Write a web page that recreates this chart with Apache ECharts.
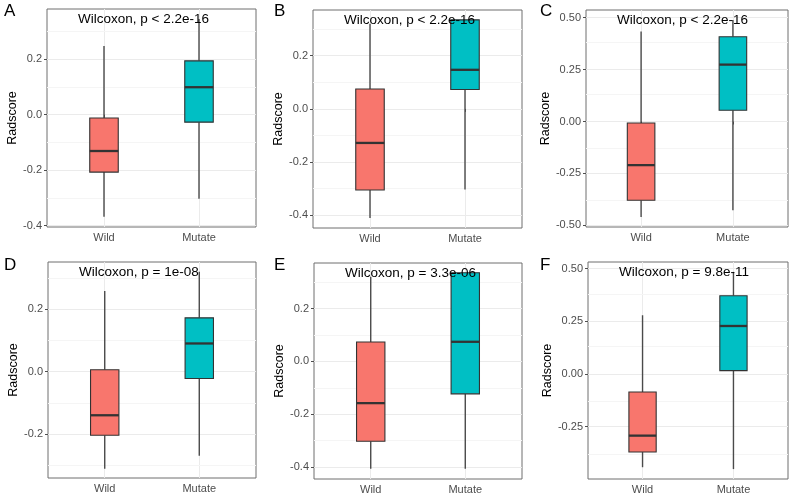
<!DOCTYPE html>
<html><head><meta charset="utf-8">
<script src="https://cdn.jsdelivr.net/npm/echarts@6/dist/echarts.min.js"></script>
<style>html,body{margin:0;padding:0;background:#fff}#c{width:792px;height:497px}</style>
</head><body><div id="c"></div>
<script>
// ---- data ----
const groups = ['Wild', 'Mutate'];
const panelLetters = ['A', 'B', 'C', 'D', 'E', 'F'];
const pLabels = ['Wilcoxon, p < 2.2e-16', 'Wilcoxon, p < 2.2e-16', 'Wilcoxon, p < 2.2e-16',
                 'Wilcoxon, p = 1e-08', 'Wilcoxon, p = 3.3e-06', 'Wilcoxon, p = 9.8e-11'];
// [min, Q1, median, Q3, max]
const wildA = [-0.368, -0.207, -0.131, -0.012, 0.248];
const mutateA = [-0.303, -0.027, 0.099, 0.194, 0.345];
const wildB = [-0.410, -0.305, -0.128, 0.075, 0.320];
const mutateB = [-0.303, 0.073, 0.147, 0.335, 0.335];
const wildC = [-0.460, -0.379, -0.210, -0.007, 0.433];
const mutateC = [-0.427, 0.054, 0.274, 0.408, 0.489];
const wildD = [-0.311, -0.204, -0.140, 0.006, 0.258];
const mutateD = [-0.270, -0.022, 0.090, 0.172, 0.320];
const wildE = [-0.406, -0.302, -0.158, 0.073, 0.320];
const mutateE = [-0.406, -0.123, 0.074, 0.335, 0.335];
const wildF = [-0.443, -0.371, -0.293, -0.086, 0.279];
const mutateF = [-0.452, 0.016, 0.228, 0.372, 0.485];
// y axis limits and ticks
const yRangeA = [-0.405, 0.381], yRangeB = [-0.448, 0.372], yRangeC = [-0.508, 0.537];
const yRangeD = [-0.341, 0.351], yRangeE = [-0.445, 0.372], yRangeF = [-0.499, 0.532];
const yTicksABE = [-0.4, -0.2, 0, 0.2];
const yTicksD = [-0.2, 0, 0.2];
const yTicksC = [-0.5, -0.25, 0, 0.25, 0.5];
const yTicksF = [-0.25, 0, 0.25, 0.5];
const yMinor1 = [-0.3, -0.1, 0.1, 0.3];
const yMinor2 = [-0.375, -0.125, 0.125, 0.375];

// ---- layout / style ----
const groupColors = ['#F8766D', '#00BFC4'];
const panels = [
  {w: wildA, m: mutateA, r: yRangeA, t: yTicksABE, mi: yMinor1, dec: 1, g: [47, 9, 209, 218]},
  {w: wildB, m: mutateB, r: yRangeB, t: yTicksABE, mi: yMinor1, dec: 1, g: [313, 10, 209, 218]},
  {w: wildC, m: mutateC, r: yRangeC, t: yTicksC, mi: yMinor2, dec: 2, g: [586, 10, 202, 217]},
  {w: wildD, m: mutateD, r: yRangeD, t: yTicksD, mi: yMinor1, dec: 1, g: [48, 262, 208, 216]},
  {w: wildE, m: mutateE, r: yRangeE, t: yTicksABE, mi: yMinor1, dec: 1, g: [314, 263, 208, 216]},
  {w: wildF, m: mutateF, r: yRangeF, t: yTicksF, mi: yMinor2, dec: 2, g: [588, 262, 200, 217]}
];
const letterPos = [[4, 3], [274, 3], [540, 3], [4, 257], [274, 257], [540, 257]];
const FONT = 'Liberation Sans, Arial, sans-serif';
const BOX_W = 0.3;

function renderBox(params, api) {
  const x = api.value(0);
  const pMin = api.coord([x, api.value(1)]);
  const pQ1 = api.coord([x, api.value(2)]);
  const pMd = api.coord([x, api.value(3)]);
  const pQ3 = api.coord([x, api.value(4)]);
  const pMax = api.coord([x, api.value(5)]);
  const half = api.size([BOX_W, 0])[0] / 2;
  const color = groupColors[Math.round(x) - 1];
  return {type: 'group', children: [
    {type: 'line', shape: {x1: pMin[0], y1: pMin[1], x2: pQ1[0], y2: pQ1[1]}, style: {stroke: '#4a4a4a', lineWidth: 1.4}},
    {type: 'line', shape: {x1: pQ3[0], y1: pQ3[1], x2: pMax[0], y2: pMax[1]}, style: {stroke: '#4a4a4a', lineWidth: 1.4}},
    {type: 'rect', shape: {x: pQ3[0] - half, y: pQ3[1], width: half * 2, height: pQ1[1] - pQ3[1]},
      style: {fill: color, stroke: '#333333', lineWidth: 1.1}},
    {type: 'line', shape: {x1: pMd[0] - half, y1: pMd[1], x2: pMd[0] + half, y2: pMd[1]}, style: {stroke: '#333333', lineWidth: 2.3}}
  ]};
}

const grid = [], xAxis = [], yAxis = [], series = [], title = [];
panels.forEach((p, i) => {
  grid.push({left: p.g[0], top: p.g[1], width: p.g[2], height: p.g[3], show: true,
    borderColor: '#6e6e6e', borderWidth: 1, backgroundColor: '#fff'});
  xAxis.push({type: 'value', gridIndex: i, min: 0.4, max: 2.6,
    axisLine: {show: false},
    axisTick: {show: true, length: 3, lineStyle: {color: '#4d4d4d'}, customValues: [1, 2]},
    axisLabel: {customValues: [1, 2], formatter: v => groups[Math.round(v) - 1] || '',
      color: '#4d4d4d', fontSize: 11, fontFamily: FONT, margin: 5},
    splitLine: {show: true, lineStyle: {color: '#ebebeb', width: 1}}
  });
  yAxis.push({type: 'value', gridIndex: i, min: p.r[0], max: p.r[1],
    name: 'Radscore', nameLocation: 'middle', nameGap: 27,
    nameTextStyle: {color: '#000', fontSize: 12.5, fontFamily: FONT},
    axisLine: {show: false},
    axisTick: {show: true, length: 3, lineStyle: {color: '#4d4d4d'}, customValues: p.t},
    axisLabel: {customValues: p.t, formatter: v => Number(v).toFixed(p.dec),
      color: '#4d4d4d', fontSize: 11, fontFamily: FONT, margin: 5},
    splitLine: {show: true, lineStyle: {color: '#ebebeb', width: 1}}
  });
  series.push({type: 'line', xAxisIndex: i, yAxisIndex: i, data: [], z: 1, silent: true,
    markLine: {silent: true, symbol: 'none', z: 1, animation: false, label: {show: false},
      lineStyle: {color: '#f5f5f5', width: 1, type: 'solid'},
      data: p.mi.map(v => ({yAxis: v}))}
  });
  series.push({type: 'custom', xAxisIndex: i, yAxisIndex: i, z: 3, renderItem: renderBox,
    encode: {x: 0, y: [1, 2, 3, 4, 5]},
    data: [[1].concat(p.w), [2].concat(p.m)]
  });
  title.push({text: pLabels[i], left: p.g[0] + 31, top: p.g[1] + 3, padding: 0, z: 10,
    textStyle: {fontSize: 13.5, fontWeight: 'normal', color: '#000', fontFamily: FONT}});
  title.push({text: panelLetters[i], left: letterPos[i][0], top: letterPos[i][1], padding: 0,
    textStyle: {fontSize: 17, fontWeight: 'normal', color: '#000', fontFamily: FONT}});
});

const chart = echarts.init(document.getElementById('c'), null, {renderer: 'canvas'});
chart.setOption({animation: false, backgroundColor: '#fff', title, grid, xAxis, yAxis, series});
</script></body></html>
